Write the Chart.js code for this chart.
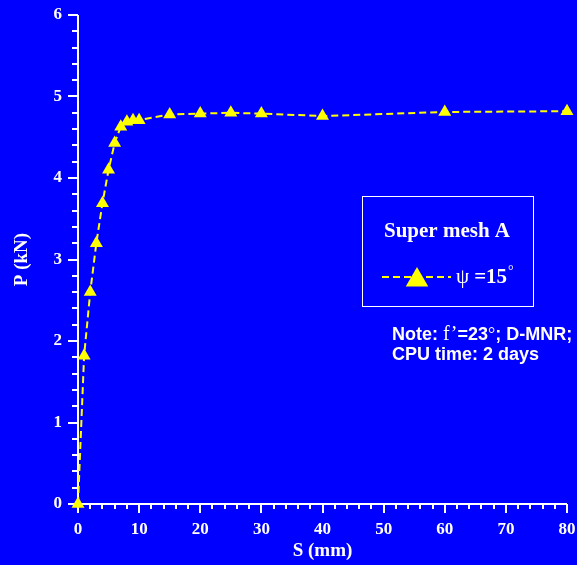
<!DOCTYPE html>
<html>
<head>
<meta charset="utf-8">
<script src="https://cdn.jsdelivr.net/npm/chart.js@4/dist/chart.umd.min.js"></script>
<style>
html,body{margin:0;padding:0;background:#0000FF;}
#wrap{width:577px;height:565px;position:relative;}
</style>
</head>
<body>
<div id="wrap"><canvas id="c" width="577" height="565"></canvas></div>
<script>
// Data
const S_mm = [0, 1, 2, 3, 4, 5, 6, 7, 8, 9, 10, 15, 20, 25, 30, 40, 60, 80];
const P_kN = [0, 1.82, 2.6, 3.2, 3.69, 4.1, 4.43, 4.63, 4.69, 4.71, 4.71, 4.78, 4.79, 4.80, 4.79, 4.76, 4.81, 4.82];
const xTicks = [0, 10, 20, 30, 40, 50, 60, 70, 80];
const yTicks = [0, 1, 2, 3, 4, 5, 6];
const seriesLabel = 'ψ =15°';
const legendTitle = 'Super mesh A';
const noteLine2 = 'CPU time: 2 days';

const WHITE = '#FFFFFF';
const YELLOW = '#FFFF00';
const SERIF = '"Liberation Serif", "Times New Roman", serif';
const SANS = '"Liberation Sans", Arial, sans-serif';

const points = S_mm.map((s, i) => ({x: s, y: P_kN[i]}));

const decor = {
  id: 'decor',
  beforeDatasetsDraw(chart) {
    const ctx = chart.ctx;
    const xs = chart.scales.x, ys = chart.scales.y;
    const a = chart.chartArea;
    ctx.save();
    ctx.strokeStyle = WHITE;
    ctx.lineWidth = 2;
    ctx.beginPath();
    ctx.moveTo(a.left, a.top); ctx.lineTo(a.left, a.bottom);
    ctx.moveTo(a.left, a.bottom); ctx.lineTo(a.right, a.bottom);
    for (let k = 0; k <= 30; k++) {
      const py = Math.round(ys.getPixelForValue(k * 0.2));
      const len = (k % 5 === 0) ? 10 : 6;
      ctx.moveTo(a.left - len, py); ctx.lineTo(a.left, py);
    }
    for (let k = 0; k <= 40; k++) {
      const px = Math.round(xs.getPixelForValue(k * 2));
      const len = (k % 5 === 0) ? 9 : 5;
      ctx.moveTo(px, a.bottom); ctx.lineTo(px, a.bottom + len);
    }
    ctx.stroke();
    ctx.restore();
  },
  afterDraw(chart) {
    const ctx = chart.ctx;
    const a = chart.chartArea;
    ctx.save();
    ctx.fillStyle = WHITE;
    ctx.strokeStyle = WHITE;
    ctx.font = 'bold 19px ' + SERIF;
    ctx.textAlign = 'center';
    ctx.textBaseline = 'middle';
    ctx.fillText('S (mm)', (a.left + a.right) / 2, 551);
    ctx.save();
    ctx.translate(22, (a.top + a.bottom) / 2);
    ctx.rotate(-Math.PI / 2);
    ctx.fillText('P (kN)', 0, 0);
    ctx.restore();

    // legend box
    ctx.lineWidth = 1;
    ctx.strokeRect(362.5, 196.5, 171, 110);
    ctx.font = 'bold 21px ' + SERIF;
    ctx.textAlign = 'center';
    ctx.textBaseline = 'alphabetic';
    ctx.fillText(legendTitle, 447, 237);
    ctx.strokeStyle = YELLOW;
    ctx.lineWidth = 2;
    ctx.setLineDash([7, 4]);
    ctx.beginPath();
    ctx.moveTo(382, 277); ctx.lineTo(451, 277);
    ctx.stroke();
    ctx.setLineDash([]);
    const r = 13, cx = 417, cy = 280;
    ctx.fillStyle = YELLOW;
    ctx.beginPath();
    ctx.moveTo(cx, cy - r);
    ctx.lineTo(cx + r * Math.sin(2 * Math.PI / 3), cy - r * Math.cos(2 * Math.PI / 3));
    ctx.lineTo(cx + r * Math.sin(4 * Math.PI / 3), cy - r * Math.cos(4 * Math.PI / 3));
    ctx.closePath();
    ctx.fill();
    ctx.fillStyle = WHITE;
    ctx.textAlign = 'left';
    let x = 456;
    ctx.font = '21px ' + SERIF;
    ctx.fillText('ψ', x, 283); x += ctx.measureText('ψ').width + 5;
    ctx.font = 'bold 21px ' + SERIF;
    ctx.fillText('=15', x, 283); x += ctx.measureText('=15').width + 1;
    ctx.font = '14px ' + SERIF;
    ctx.fillText('°', x, 275);

    // note
    x = 392;
    const by = 340;
    ctx.font = 'bold 18px ' + SANS;
    ctx.fillText('Note: ', x, by); x += ctx.measureText('Note: ').width;
    ctx.font = '20px ' + SERIF;
    ctx.fillText('f’', x, by); x += ctx.measureText('f’').width;
    ctx.font = 'bold 18px ' + SANS;
    ctx.fillText('=23', x, by); x += ctx.measureText('=23').width;
    ctx.font = '18px ' + SERIF;
    ctx.fillText('°', x, by); x += ctx.measureText('°').width;
    ctx.font = 'bold 18px ' + SANS;
    ctx.fillText('; D-MNR;', x, by);
    ctx.fillText(noteLine2, 392, 360);
    ctx.restore();
  }
};

const bg = {
  id: 'bg',
  beforeDraw(chart) {
    const ctx = chart.ctx;
    ctx.save();
    ctx.fillStyle = '#0000FF';
    ctx.fillRect(0, 0, chart.width, chart.height);
    ctx.restore();
  }
};

new Chart(document.getElementById('c'), {
  type: 'scatter',
  data: {
    datasets: [{
      label: seriesLabel,
      data: points,
      showLine: true,
      clip: false,
      borderColor: YELLOW,
      borderWidth: 2,
      borderDash: [7, 4],
      backgroundColor: YELLOW,
      pointBackgroundColor: YELLOW,
      pointBorderColor: YELLOW,
      pointBorderWidth: 0,
      pointStyle: 'triangle',
      pointRadius: 7.5,
      tension: 0
    }]
  },
  options: {
    responsive: false,
    animation: false,
    devicePixelRatio: 1,
    layout: {padding: {left: 0, right: 10, top: 15, bottom: 0}},
    plugins: {legend: {display: false}, tooltip: {enabled: false}},
    scales: {
      x: {
        type: 'linear', min: 0, max: 80,
        afterBuildTicks(s) { s.ticks = xTicks.map(v => ({value: v})); },
        afterFit(s) { s.height = 61; s.paddingLeft = 0; s.paddingRight = 0; },
        grid: {display: false, drawTicks: false},
        border: {display: false},
        ticks: {color: WHITE, font: {family: SERIF, size: 17, weight: 'bold'}, padding: 15, maxRotation: 0}
      },
      y: {
        type: 'linear', min: 0, max: 6,
        afterBuildTicks(s) { s.ticks = yTicks.map(v => ({value: v})); },
        afterFit(s) { s.width = 78; s.paddingTop = 0; s.paddingBottom = 0; },
        grid: {display: false, drawTicks: false},
        border: {display: false},
        ticks: {color: WHITE, font: {family: SERIF, size: 17, weight: 'bold'}, padding: 16}
      }
    }
  },
  plugins: [bg, decor]
});
</script>
</body>
</html>
